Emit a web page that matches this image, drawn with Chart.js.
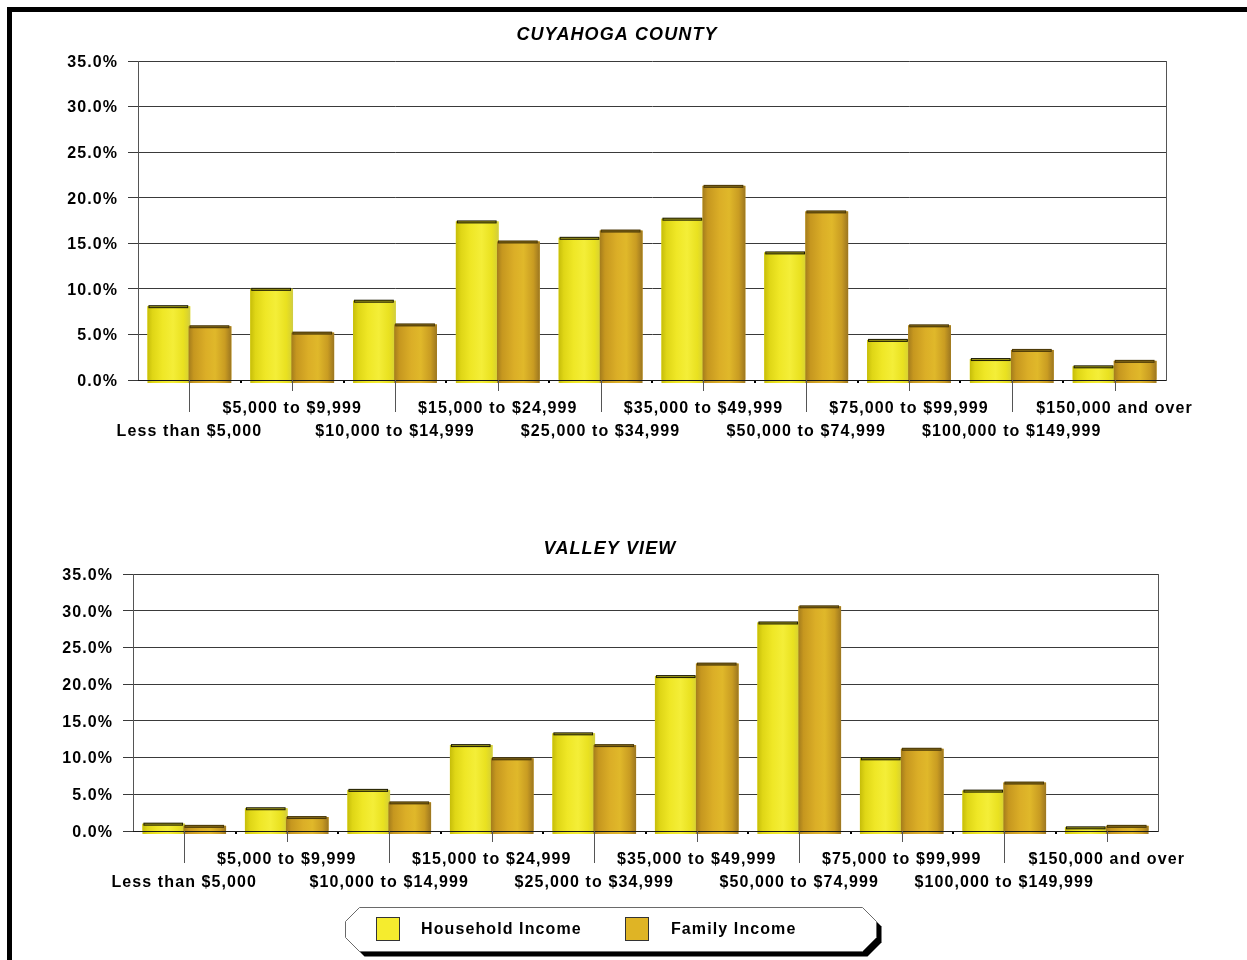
<!DOCTYPE html>
<html>
<head>
<meta charset="utf-8">
<script src="https://cdn.jsdelivr.net/npm/chart.js@4"></script>
<style>
  html, body { margin: 0; padding: 0; background: #fff; overflow: hidden; width: 1247px; height: 960px; }
  #frame { position: absolute; left: 7px; top: 7px; width: 1300px; height: 1000px; border: 5px solid #000; box-sizing: border-box; pointer-events: none; }
  canvas { position: absolute; left: 0; }
  #countyChart { top: 0; }
  #cityChart { top: 500px; }
  #legendBox { position: absolute; left: 0; top: 0; }
  .lg-label { position: absolute; font: bold 16px "Liberation Sans", Arial, sans-serif; letter-spacing: 1.1px; color: #000; line-height: 24px; white-space: nowrap; }
  .lg-swatch { position: absolute; width: 24px; height: 24px; box-sizing: border-box; border: 1px solid #333; }
</style>
</head>
<body>
<canvas id="countyChart" width="1234" height="450"></canvas>
<canvas id="cityChart" width="1220" height="400"></canvas>
<svg id="legendBox" width="1247" height="960">
  <polygon points="364.5,912.5 867.5,912.5 881.5,926.5 881.5,942.5 867.5,956.5 364.5,956.5 350.5,942.5 350.5,926.5" fill="#000"/>
  <polygon points="359.5,907.5 862.5,907.5 876.5,921.5 876.5,937.5 862.5,951.5 359.5,951.5 345.5,937.5 345.5,921.5" fill="#fff" stroke="#6a6a6a" stroke-width="1"/>
</svg>
<div id="legend"></div>
<div id="frame"></div>

<script>
// Income brackets shared by both charts
const categories = [
  'Less than $5,000', '$5,000 to $9,999', '$10,000 to $14,999', '$15,000 to $24,999',
  '$25,000 to $34,999', '$35,000 to $49,999', '$50,000 to $74,999', '$75,000 to $99,999',
  '$100,000 to $149,999', '$150,000 and over'
];
const seriesNames = ['Household Income', 'Family Income'];

// Share of households / families in each bracket (percent)
const countyHousehold = [8.1, 10.0, 8.7, 17.4, 15.6, 17.7, 14.0, 4.4, 2.3, 1.5];
const countyFamily    = [5.9, 5.2, 6.1, 15.2, 16.4, 21.3, 18.5, 6.0, 3.3, 2.1];
const cityHousehold   = [1.0, 3.1, 5.6, 11.7, 13.3, 21.1, 28.4, 9.9, 5.5, 0.5];
const cityFamily      = [0.7, 1.9, 3.9, 9.9, 11.7, 22.8, 30.6, 11.2, 6.6, 0.7];

const yTickLabels = ['0.0%', '5.0%', '10.0%', '15.0%', '20.0%', '25.0%', '30.0%', '35.0%'];
const chartTitles = ['CUYAHOGA COUNTY', 'VALLEY VIEW'];

// Styling
const FONT = '"Liberation Sans", Arial, Helvetica, sans-serif';
const seriesColors = ['#f5ec2e', '#dfb425'];
const seriesShades = [
  [[0, '#c6bd0a'], [0.12, '#dfd616'], [0.35, '#efe726'], [0.6, '#f4ee38'], [0.84, '#e9e120'], [0.93, '#ddd62c'], [1, '#cfcc46']],
  [[0, '#a47c1c'], [0.12, '#c6971f'], [0.4, '#dbae27'], [0.62, '#e0b82a'], [0.85, '#c99c22'], [1, '#9c7620']]
];
const capStyles = [
  { edge: '#1e1c04', fill: '#9a9418' },
  { edge: '#4a3808', fill: '#7e6416' }
];

// Alternate bracket labels between an upper and a lower row
const staggeredLabels = categories.map((c, i) => (i % 2 === 0 ? ['', c] : [c]));

const spacingPlugin = {
  id: 'spacing',
  beforeLayout(chart) { chart.ctx.letterSpacing = '1.1px'; },
  beforeDraw(chart) { chart.ctx.letterSpacing = '1.1px'; }
};

const barShadePlugin = {
  id: 'barShade',
  afterDatasetsDraw(chart) {
    const ctx = chart.ctx;
    const base = Math.round(chart.scales.y.getPixelForValue(0));
    ctx.save();
    chart.data.datasets.forEach((ds, di) => {
      const shade = seriesShades[di];
      const cap = capStyles[di];
      chart.getDatasetMeta(di).data.forEach(bar => {
        const w = bar.width;
        const left = bar.x - w / 2;
        const top = bar.y;
        const g = ctx.createLinearGradient(left, 0, left + w, 0);
        shade.forEach(s => g.addColorStop(s[0], s[1]));
        ctx.fillStyle = g;
        ctx.fillRect(left, top, w, base + 3 - top);
        ctx.fillStyle = cap.edge;
        ctx.fillRect(left + 1, top - 1, w - 3, 3);
        ctx.fillStyle = cap.fill;
        ctx.fillRect(left + 2, top, w - 5, 1);
      });
    });
    // zero line sits over the bar bottoms
    const area = chart.chartArea;
    ctx.strokeStyle = '#1a1a1a';
    ctx.lineWidth = 1;
    ctx.beginPath();
    ctx.moveTo(area.left, base + 0.5);
    ctx.lineTo(area.right, base + 0.5);
    ctx.stroke();
    ctx.restore();
  },
  afterDraw(chart) {
    const ctx = chart.ctx;
    const xs = chart.scales.x;
    const base = Math.round(chart.scales.y.getPixelForValue(0));
    ctx.save();
    ctx.strokeStyle = '#555';
    ctx.lineWidth = 1;
    const n = chart.data.labels.length;
    for (let i = 0; i < n; i++) {
      const px = Math.round(xs.getPixelForValue(i)) + 0.5;
      ctx.beginPath();
      ctx.moveTo(px, base);
      ctx.lineTo(px, base + (i % 2 === 0 ? 32 : 11));
      ctx.stroke();
      if (i > 0) {
        const bx = Math.round((xs.getPixelForValue(i) + xs.getPixelForValue(i - 1)) / 2);
        ctx.fillStyle = '#000';
        ctx.fillRect(bx - 1, base + 1, 2, 2);
      }
    }
    ctx.restore();
  }
};

function buildChart(canvasId, titleText, household, family, geo) {
  return new Chart(document.getElementById(canvasId), {
    type: 'bar',
    data: {
      labels: staggeredLabels,
      datasets: [
        { label: seriesNames[0], data: household, backgroundColor: seriesColors[0] },
        { label: seriesNames[1], data: family, backgroundColor: seriesColors[1] }
      ]
    },
    options: {
      responsive: false,
      animation: false,
      events: [],
      layout: { padding: 0, autoPadding: false },
      datasets: { bar: { categoryPercentage: 0.8, barPercentage: 1.04, borderWidth: 0 } },
      plugins: {
        legend: { display: false },
        tooltip: { enabled: false },
        title: {
          display: true,
          text: titleText,
          color: '#000',
          font: { family: FONT, size: 18, weight: 'bold', style: 'italic', lineHeight: 1.2 },
          padding: { top: geo.titleTop, bottom: geo.titleBottom }
        }
      },
      scales: {
        x: {
          grid: { display: false, drawTicks: false },
          border: { display: false },
          ticks: {
            autoSkip: false, maxRotation: 0, minRotation: 0, color: '#000', padding: 17.5,
            font: { family: FONT, size: 16, weight: 'bold', lineHeight: 23 / 16 }
          },
          afterFit(s) { s.height = geo.xHeight; }
        },
        y: {
          min: 0, max: 35,
          ticks: {
            stepSize: 5, color: '#000', padding: 10, labelOffset: 1.5,
            font: { family: FONT, size: 16, weight: 'bold' },
            callback: (v, i) => yTickLabels[i]
          },
          grid: { color: '#3a3a3a', tickColor: '#3a3a3a', tickLength: 10, lineWidth: 1 },
          border: { display: true, color: '#555' },
          afterFit(s) { s.width = geo.yWidth; }
        },
        y2: {
          position: 'right', min: 0, max: 35,
          grid: { display: false, drawTicks: false },
          ticks: { display: false },
          border: { display: true, color: '#555' },
          afterFit(s) { s.width = geo.rightWidth; }
        }
      }
    },
    plugins: [spacingPlugin, barShadePlugin]
  });
}

buildChart('countyChart', chartTitles[0], countyHousehold, countyFamily,
  { titleTop: 24, titleBottom: 15.4, xHeight: 70, yWidth: 138, rightWidth: 68 });
buildChart('cityChart', chartTitles[1], cityHousehold, cityFamily,
  { titleTop: 38.2, titleBottom: 14.2, xHeight: 69, yWidth: 133, rightWidth: 62 });

// Legend entries
const legendEl = document.getElementById('legend');
const legendPos = [{ sw: 376, tx: 421 }, { sw: 625, tx: 671 }];
seriesNames.forEach((name, i) => {
  const sw = document.createElement('div');
  sw.className = 'lg-swatch';
  sw.style.left = legendPos[i].sw + 'px';
  sw.style.top = '917px';
  sw.style.background = seriesColors[i];
  legendEl.appendChild(sw);
  const tx = document.createElement('div');
  tx.className = 'lg-label';
  tx.style.left = legendPos[i].tx + 'px';
  tx.style.top = '917px';
  tx.textContent = name;
  legendEl.appendChild(tx);
});
</script>
</body>
</html>
